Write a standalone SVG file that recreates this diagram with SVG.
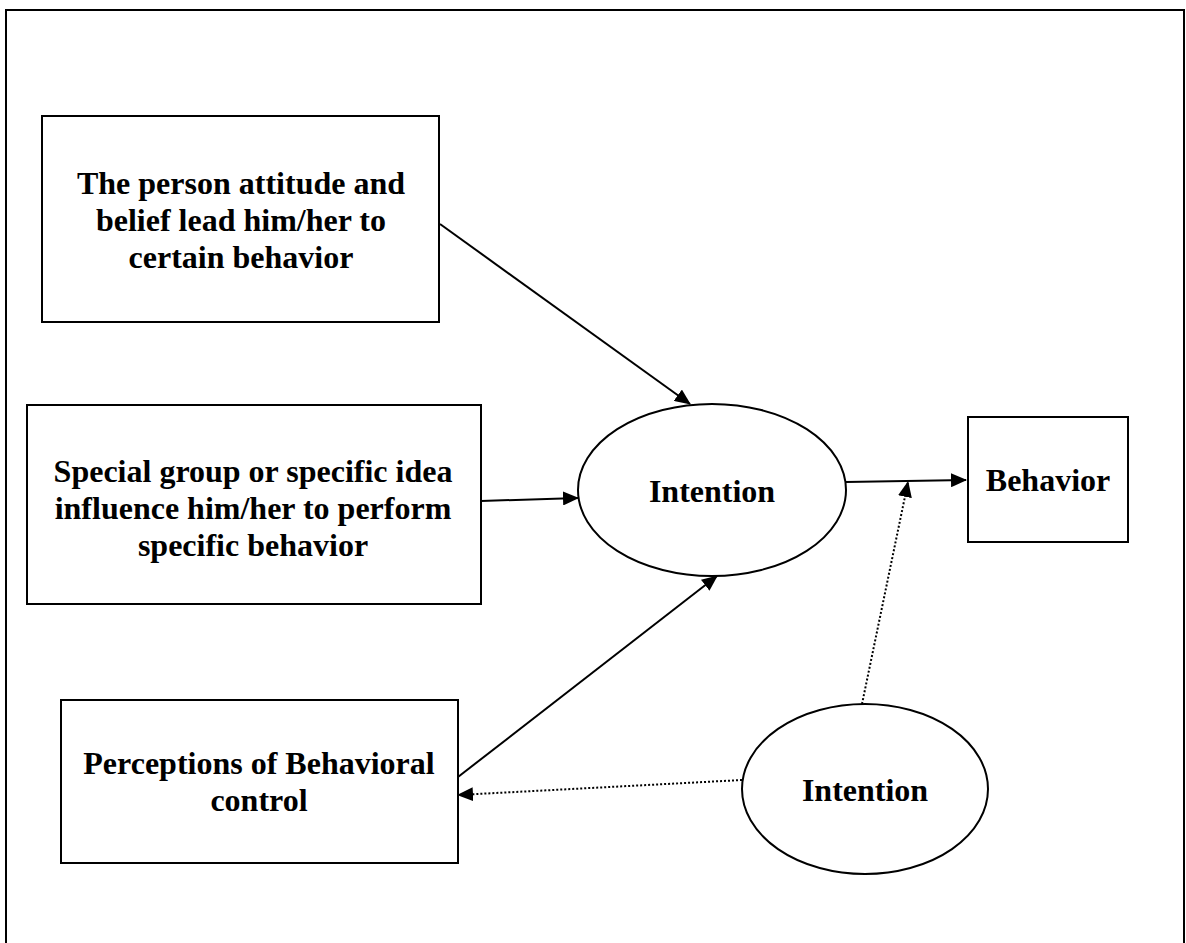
<svg xmlns="http://www.w3.org/2000/svg" width="1186" height="943" viewBox="0 0 1186 943">
<defs>
<style>
.frame{fill:none;stroke:#000;stroke-width:2}
.box{fill:#fff;stroke:#000;stroke-width:2}
.t{font-family:"Liberation Serif","Times New Roman",serif;font-weight:bold;font-size:32px;fill:#000;text-anchor:middle}
.c{fill:none;stroke:#000;stroke-width:2}
.d{fill:none;stroke:#000;stroke-width:2;stroke-dasharray:2 2}
</style>
<marker id="ah" markerWidth="16" markerHeight="14" refX="15" refY="7" orient="auto" markerUnits="userSpaceOnUse">
<path d="M0,0 L16,7 L0,14 Z" fill="#000"/>
</marker>
</defs>
<rect width="1186" height="943" fill="#fff"/>
<rect class="frame" x="6" y="10" width="1178" height="950"/>
<g id="node-attitude">
<rect class="box" x="42" y="116" width="397" height="206"/>
<text class="t" x="241" y="194">The person attitude and</text>
<text class="t" x="241" y="231">belief lead him/her to</text>
<text class="t" x="241" y="268">certain behavior</text>
</g>
<g id="node-group">
<rect class="box" x="27" y="405" width="454" height="199"/>
<text class="t" x="253" y="482">Special group or specific idea</text>
<text class="t" x="253" y="519">influence him/her to perform</text>
<text class="t" x="253" y="556">specific behavior</text>
</g>
<g id="node-perceptions">
<rect class="box" x="61" y="700" width="397" height="163"/>
<text class="t" x="259" y="774">Perceptions of Behavioral</text>
<text class="t" x="259" y="811">control</text>
</g>
<g id="node-intention">
<ellipse class="box" cx="712" cy="490" rx="134" ry="86"/>
<text class="t" x="712" y="502">Intention</text>
</g>
<g id="node-behavior">
<rect class="box" x="968" y="417" width="160" height="125"/>
<text class="t" x="1048" y="491">Behavior</text>
</g>
<g id="node-intention2">
<ellipse class="box" cx="865" cy="789" rx="123" ry="85"/>
<text class="t" x="865" y="801">Intention</text>
</g>
<g id="connectors">
<line class="c" x1="440" y1="224" x2="690" y2="404" marker-end="url(#ah)"/>
<line class="c" x1="481" y1="501" x2="578" y2="498" marker-end="url(#ah)"/>
<line class="c" x1="846" y1="482" x2="966" y2="480" marker-end="url(#ah)"/>
<line class="c" x1="458" y1="777" x2="717" y2="576" marker-end="url(#ah)"/>
<line class="d" x1="862" y1="704" x2="908" y2="482" marker-end="url(#ah)"/>
<line class="d" x1="742" y1="780" x2="458" y2="795" marker-end="url(#ah)"/>
</g>
</svg>
